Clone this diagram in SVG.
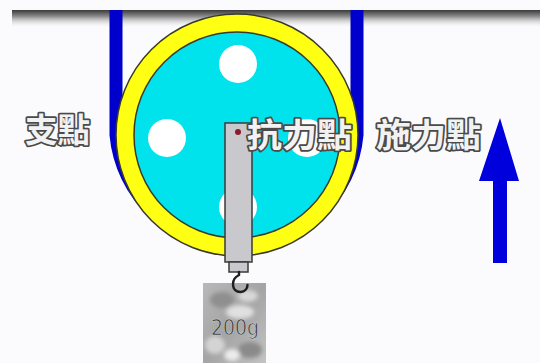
<svg xmlns="http://www.w3.org/2000/svg" width="540" height="363" viewBox="0 0 540 363">
  <defs>
    <linearGradient id="ceiling" x1="0" y1="0" x2="0" y2="1">
      <stop offset="0" stop-color="#3a3a3a"/>
      <stop offset="0.35" stop-color="#8a8a8a"/>
      <stop offset="1" stop-color="#fbfafd" stop-opacity="0"/>
    </linearGradient>
    <linearGradient id="bag" x1="0" y1="0" x2="1" y2="1">
      <stop offset="0" stop-color="#b8b8b8"/>
      <stop offset="0.5" stop-color="#a4a4a4"/>
      <stop offset="1" stop-color="#c4c4c4"/>
    </linearGradient>
    <filter id="soft" x="-20%" y="-20%" width="140%" height="140%">
      <feGaussianBlur stdDeviation="2"/>
    </filter>
    <clipPath id="bagClip">
      <rect x="203" y="283" width="63" height="80"/>
    </clipPath>
  </defs>
  <style>
    .label { font-family: "Noto Sans CJK TC", "Noto Sans CJK SC", sans-serif; font-weight: 700; font-size: 33px; fill: #f2f2f2; stroke: #4a4a4a; stroke-width: 3.5; paint-order: stroke; stroke-linejoin: round; }
    .dot { fill: #ffffff; }
    .edge { stroke: #3a3a2a; stroke-width: 1.5; }
  </style>

  <!-- background and ceiling shadow -->
  <rect width="540" height="363" fill="#fbfafd"/>
  <rect x="12" y="10" width="528" height="18" fill="url(#ceiling)"/>

  <g id="connectors">
    <!-- rope wrapped under the pulley -->
    <path id="rope" d="M116,10 V135 A121 121 0 0 0 357,135 V10" fill="none" stroke="#0000cc" stroke-width="13"/>
    <!-- applied force arrow -->
    <path id="force-arrow" d="M500,118 L519,181 L507,181 L507,263 L493,263 L493,181 L479,181 Z" fill="#0000dd"/>
  </g>

  <g id="pulley">
    <circle cx="237" cy="135" r="121" fill="#ffff14" class="edge"/>
    <circle cx="237" cy="135" r="103" fill="#00e3ec" class="edge"/>
    <circle class="dot" cx="238" cy="64" r="19"/>
    <circle class="dot" cx="167" cy="138" r="19"/>
    <circle class="dot" cx="307" cy="138" r="19"/>
    <circle class="dot" cx="238" cy="207" r="19"/>
  </g>

  <g id="weight">
    <rect x="203" y="283" width="63" height="80" fill="url(#bag)"/>
    <g clip-path="url(#bagClip)" filter="url(#soft)">
      <ellipse cx="222" cy="300" rx="12" ry="8" fill="#8f8f8f"/>
      <ellipse cx="248" cy="296" rx="10" ry="6" fill="#d8d8d8"/>
      <ellipse cx="240" cy="312" rx="14" ry="7" fill="#e0e0e0"/>
      <ellipse cx="215" cy="345" rx="10" ry="9" fill="#d4d4d4"/>
      <ellipse cx="250" cy="350" rx="12" ry="8" fill="#8a8a8a"/>
      <ellipse cx="232" cy="355" rx="8" ry="6" fill="#ececec"/>
    </g>
    <text x="235" y="335" text-anchor="middle" font-family="'DejaVu Sans', sans-serif" font-size="21" fill="#333333" stroke="#d0d0d0" stroke-width="0.6" textLength="48" lengthAdjust="spacingAndGlyphs">200g</text>
  </g>

  <!-- spring scale drawn last so its hook sits over the bag -->
  <g id="spring-scale">
    <rect x="225" y="123" width="27" height="139" fill="#c9c8cc" stroke="#3a3a3a" stroke-width="1.5"/>
    <circle cx="238" cy="132" r="3" fill="#8b1a2a"/>
    <rect x="229" y="262" width="19" height="10" fill="#c9c8cc" stroke="#3a3a3a" stroke-width="1.5"/>
    <path d="M239,272 L239,275 Q233,278 233,284 C233,290 237,292 240.5,292 C245,292 247.5,288.5 247.5,285" fill="none" stroke="#1e1e1e" stroke-width="2.4" stroke-linecap="round"/>
  </g>

  <g id="labels">
    <text id="fulcrum" class="label" x="25" y="142" textLength="65" lengthAdjust="spacingAndGlyphs">支點</text>
    <text id="load-point" class="label" x="247" y="147" textLength="105" lengthAdjust="spacingAndGlyphs">抗力點</text>
    <text id="effort-point" class="label" x="376" y="147" textLength="105" lengthAdjust="spacingAndGlyphs">施力點</text>
  </g>
</svg>
